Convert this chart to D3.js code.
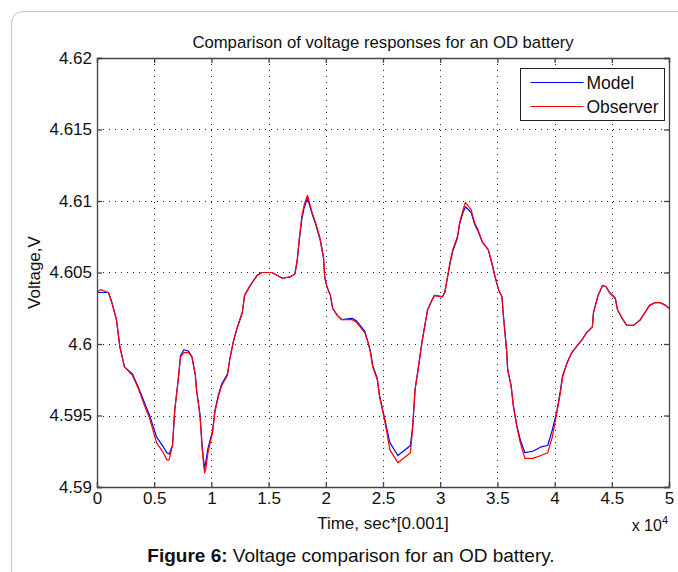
<!DOCTYPE html>
<html>
<head>
<meta charset="utf-8">
<script src="https://cdn.jsdelivr.net/npm/d3@7"></script>
<style>
  body { margin: 0; background: #fff; }
  svg { display: block; font-family: "Liberation Sans", Arial, sans-serif; }
</style>
</head>
<body>
<svg id="chart" width="678" height="572"></svg>
<script>
// time in sec*[0.001], plotted as x 10^4
const time = [0, 300, 1000, 1300, 1700, 2000, 2400, 3100, 3600, 4200, 4600, 5200, 5800, 6100, 6300, 6600, 6800, 7100, 7300, 7600,
  8000, 8300, 8600, 8700, 9000, 9200, 9400, 9500, 9700, 10100, 10300, 10600, 10900, 11400, 11600, 11900, 12200, 12700, 12900, 13400,
  14000, 14400, 15300, 16200, 16900, 17300, 17500, 17700, 17900, 18100, 18400, 18800, 19100, 19500, 19800, 19900, 20100, 20400, 20600, 21000,
  21400, 22300, 22700, 23400, 23700, 23900, 24100, 24500, 24700, 25000, 25300, 25600, 26300, 27400, 27600, 27800, 28100, 28400, 28700, 28900,
  29300, 29500, 30200, 30400, 30600, 30900, 31100, 31500, 31700, 32000, 32200, 32700, 33000, 33300, 33700, 34200, 34500, 34800, 35100, 35400,
  35500, 35800, 35900, 36200, 36400, 36700, 37000, 37400, 38100, 38800, 39400, 39800, 40200, 40500, 40700, 41100, 41500, 42000, 42400, 42800,
  43300, 43400, 43800, 44200, 44500, 44800, 45300, 45500, 45900, 46300, 46900, 47500, 47900, 48300, 48800, 49200, 49700, 50000];

const observer = [4.6036, 4.6038, 4.6036, 4.6029, 4.6017, 4.5998, 4.5984, 4.5978, 4.5969, 4.5956, 4.5948, 4.5931, 4.5924, 4.5919, 4.5919, 4.5929, 4.5954, 4.5975, 4.5991, 4.5994,
  4.5994, 4.5991, 4.5978, 4.5968, 4.5950, 4.5926, 4.5910, 4.5912, 4.5924, 4.5938, 4.5952, 4.5963, 4.5971, 4.5978, 4.5989, 4.6001, 4.6010, 4.6022, 4.6034, 4.6041,
  4.6048, 4.6050, 4.6050, 4.6046, 4.6047, 4.6049, 4.6059, 4.6075, 4.6089, 4.6097, 4.6104, 4.6092, 4.6085, 4.6074, 4.6061, 4.6047, 4.6040, 4.6034, 4.6025, 4.6020,
  4.6017, 4.6017, 4.6015, 4.6008, 4.6001, 4.5994, 4.5984, 4.5975, 4.5963, 4.5952, 4.5940, 4.5926, 4.5917, 4.5924, 4.5942, 4.5968, 4.5984, 4.6001, 4.6015, 4.6024,
  4.6031, 4.6034, 4.6033, 4.6036, 4.6045, 4.6059, 4.6066, 4.6075, 4.6085, 4.6094, 4.6099, 4.6094, 4.6085, 4.6080, 4.6071, 4.6066, 4.6057, 4.6047, 4.6038, 4.6033,
  4.6022, 4.5996, 4.5982, 4.5970, 4.5956, 4.5942, 4.5931, 4.5920, 4.5920, 4.5922, 4.5924, 4.5935, 4.5952, 4.5966, 4.5977, 4.5987, 4.5994, 4.5999, 4.6003, 4.6008,
  4.6012, 4.6022, 4.6034, 4.6041, 4.6040, 4.6036, 4.6032, 4.6024, 4.6018, 4.6013, 4.6013, 4.6017, 4.6022, 4.6027, 4.6029, 4.6029, 4.6027, 4.6025];

const model = [4.6036, 4.6036, 4.6036, 4.6029, 4.6017, 4.5998, 4.5984, 4.5979, 4.5970, 4.5958, 4.5950, 4.5935, 4.5928, 4.5924, 4.5923, 4.5929, 4.5954, 4.5975, 4.5992, 4.5996,
  4.5995, 4.5991, 4.5978, 4.5968, 4.5951, 4.5928, 4.5913, 4.5917, 4.5927, 4.5939, 4.5953, 4.5964, 4.5972, 4.5979, 4.5989, 4.6001, 4.6010, 4.6022, 4.6034, 4.6041,
  4.6048, 4.6050, 4.6050, 4.6046, 4.6047, 4.6049, 4.6058, 4.6074, 4.6087, 4.6095, 4.6102, 4.6091, 4.6084, 4.6073, 4.6060, 4.6047, 4.6040, 4.6034, 4.6025, 4.6020,
  4.6017, 4.6018, 4.6016, 4.6009, 4.6001, 4.5995, 4.5985, 4.5976, 4.5964, 4.5953, 4.5942, 4.5931, 4.5922, 4.5929, 4.5943, 4.5968, 4.5984, 4.6001, 4.6015, 4.6024,
  4.6031, 4.6034, 4.6033, 4.6036, 4.6045, 4.6058, 4.6065, 4.6074, 4.6084, 4.6092, 4.6096, 4.6092, 4.6084, 4.6079, 4.6071, 4.6066, 4.6057, 4.6047, 4.6038, 4.6033,
  4.6022, 4.5996, 4.5982, 4.5971, 4.5957, 4.5943, 4.5933, 4.5924, 4.5925, 4.5928, 4.5929, 4.5940, 4.5953, 4.5967, 4.5978, 4.5987, 4.5994, 4.5999, 4.6003, 4.6008,
  4.6012, 4.6022, 4.6034, 4.6041, 4.6040, 4.6036, 4.6032, 4.6024, 4.6018, 4.6013, 4.6013, 4.6017, 4.6022, 4.6027, 4.6029, 4.6029, 4.6027, 4.6025];

const xTicks = [0, 5000, 10000, 15000, 20000, 25000, 30000, 35000, 40000, 45000, 50000];
const yTicks = [4.59, 4.595, 4.6, 4.605, 4.61, 4.615, 4.62];
const seriesNames = ["Model", "Observer"];
const seriesColors = ["#0000ff", "#ff0000"];

const margin = {top: 58, right: 9, bottom: 85, left: 97};
const width = 678, height = 572;
const fontSize = "17px";

const svg = d3.select("#chart");

// page frame
svg.append("path")
    .attr("d", "M11.5,572 L11.5,24 Q11.5,11.5 24,11.5 L678,11.5")
    .attr("fill", "none")
    .attr("stroke", "#c4c4c4")
    .attr("stroke-width", 1);

const x = d3.scaleLinear()
    .domain([0, 50000])
    .range([margin.left, width - margin.right]);

const y = d3.scaleLinear()
    .domain([4.59, 4.62])
    .range([height - margin.bottom, margin.top]);

// dotted grid
const grid = svg.append("g")
    .attr("stroke", "#222")
    .attr("stroke-width", 1)
    .attr("stroke-dasharray", "1,5");

grid.selectAll("line.gx")
  .data(xTicks.slice(1, -1))
  .enter().append("line")
    .attr("x1", d => Math.round(x(d)) + 0.5).attr("x2", d => Math.round(x(d)) + 0.5)
    .attr("y1", y(4.62)).attr("y2", y(4.59));

grid.selectAll("line.gy")
  .data(yTicks.slice(1, -1))
  .enter().append("line")
    .attr("y1", d => Math.round(y(d)) + 0.5).attr("y2", d => Math.round(y(d)) + 0.5)
    .attr("x1", x(0)).attr("x2", x(50000));

// axes with inward ticks on all four sides
const axisColor = "#444";
const xAxis = d3.axisBottom(x).tickValues(xTicks).tickSize(-5).tickPadding(5).tickFormat(d => d3.format("~g")(d / 10000));
const yAxis = d3.axisLeft(y).tickValues(yTicks).tickSize(-5).tickPadding(5).tickFormat(d3.format("~g"));

function styleAxis(g, showText) {
  g.select(".domain").attr("stroke", axisColor).attr("stroke-width", 1.3);
  g.selectAll(".tick line").attr("stroke", axisColor).attr("stroke-width", 1.3);
  g.selectAll(".tick text")
      .attr("fill", "#111")
      .style("font-size", fontSize)
      .style("font-family", "'Liberation Sans', Arial, sans-serif")
      .attr("opacity", showText ? 1 : 0);
}

svg.append("g")
    .attr("transform", `translate(0,${y(4.59)})`)
    .call(xAxis)
    .call(g => styleAxis(g, true));

svg.append("g")
    .attr("transform", `translate(0,${y(4.62)})`)
    .call(d3.axisTop(x).tickValues(xTicks).tickSize(-5).tickFormat(""))
    .call(g => styleAxis(g, false));

svg.append("g")
    .attr("transform", `translate(${x(0)},0)`)
    .call(yAxis)
    .call(g => styleAxis(g, true));

svg.append("g")
    .attr("transform", `translate(${x(50000)},0)`)
    .call(d3.axisRight(y).tickValues(yTicks).tickSize(-5).tickFormat(""))
    .call(g => styleAxis(g, false));

// lines
const line = d3.line()
    .x((d, i) => x(time[i]))
    .y(d => y(d));

[model, observer].forEach((s, k) => {
  svg.append("path")
      .datum(s)
      .attr("fill", "none")
      .attr("stroke", seriesColors[k])
      .attr("stroke-width", 1.2)
      .attr("stroke-linejoin", "round")
      .attr("d", line);
});

// legend
const legend = svg.append("g").attr("transform", "translate(520.5,68.5)");
legend.append("rect")
    .attr("width", 144).attr("height", 52)
    .attr("fill", "#fff")
    .attr("stroke", "#222")
    .attr("stroke-width", 1);

seriesNames.forEach((name, i) => {
  const ly = 14 + i * 24;
  legend.append("line")
      .attr("x1", 10).attr("x2", 63)
      .attr("y1", ly).attr("y2", ly)
      .attr("stroke", seriesColors[i])
      .attr("stroke-width", 1.2);
  legend.append("text")
      .attr("x", 66).attr("y", ly)
      .attr("dy", "0.35em")
      .style("font-size", "17.5px")
      .attr("fill", "#111")
      .text(name);
});

// titles
svg.append("text")
    .attr("x", (x(0) + x(50000)) / 2).attr("y", 48)
    .attr("text-anchor", "middle")
    .style("font-size", "16.7px")
    .attr("fill", "#111")
    .text("Comparison of voltage responses for an OD battery");

svg.append("text")
    .attr("x", (x(0) + x(50000)) / 2).attr("y", 529)
    .attr("text-anchor", "middle")
    .style("font-size", fontSize)
    .attr("fill", "#111")
    .text("Time, sec*[0.001]");

svg.append("text")
    .attr("transform", `translate(40,${(y(4.59) + y(4.62)) / 2}) rotate(-90)`)
    .attr("text-anchor", "middle")
    .style("font-size", fontSize)
    .attr("fill", "#111")
    .text("Voltage,V");

const exp = svg.append("text")
    .attr("x", 668).attr("y", 531)
    .attr("text-anchor", "end")
    .style("font-size", "16px")
    .attr("fill", "#111");
exp.append("tspan").text("x 10");
exp.append("tspan").attr("dy", -7).style("font-size", "11px").text("4");

// figure caption
const cap = svg.append("text")
    .attr("x", 351).attr("y", 562)
    .attr("text-anchor", "middle")
    .style("font-size", "19px")
    .attr("fill", "#111");
cap.append("tspan").style("font-weight", "bold").text("Figure 6:");
cap.append("tspan").text(" Voltage comparison for an OD battery.");
</script>
</body>
</html>
